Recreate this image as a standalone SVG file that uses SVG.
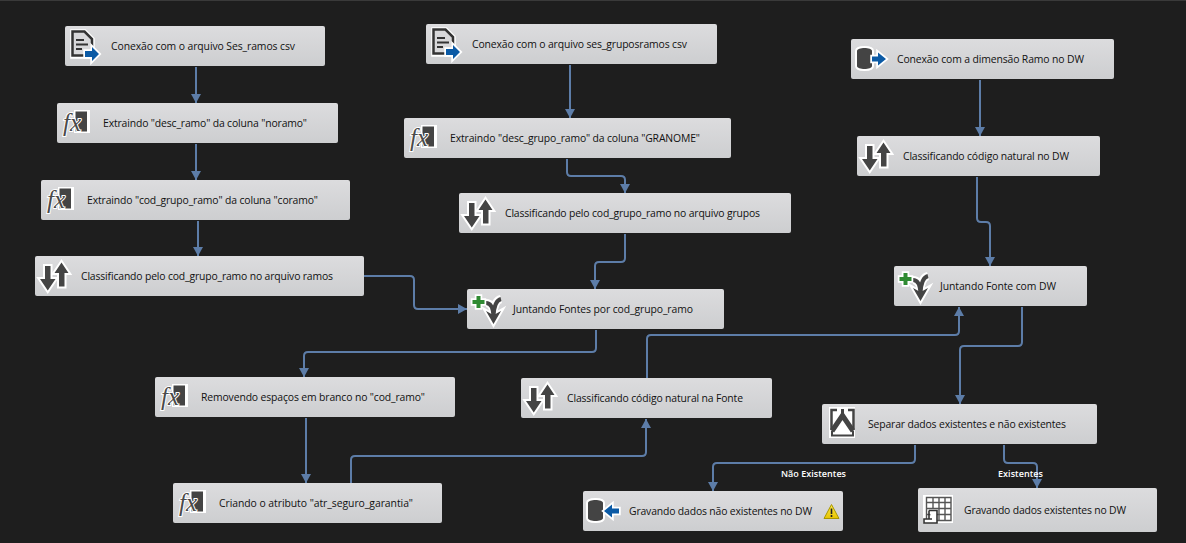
<svg xmlns="http://www.w3.org/2000/svg" width="1186" height="543" viewBox="0 0 1186 543">
<style>
.box{fill:url(#g);stroke:none}
text.t{font-family:"Open Sans","Noto Sans","Liberation Sans",sans-serif;font-size:10.4px;fill:#111}
text.l{font-family:"Open Sans","Noto Sans","Liberation Sans",sans-serif;font-size:9px;font-weight:600;fill:#fff}
.c{fill:none;stroke:#5d7da8;stroke-width:2;stroke-linejoin:round}
.d{fill:#444;stroke:#fff;stroke-width:4;paint-order:stroke;stroke-linejoin:miter}
.b{fill:#0b5aa5;stroke:#fff;stroke-width:3.500;paint-order:stroke;stroke-linejoin:miter}
.fx{font-family:"Liberation Serif",serif;font-style:italic;font-size:25px;fill:#4a4a4a;stroke:#fff;stroke-width:2;paint-order:stroke}
</style>
<defs>
<linearGradient id="g" x1="0" y1="0" x2="0" y2="1"><stop offset="0" stop-color="#dcdcde"/><stop offset="1" stop-color="#cdced0"/></linearGradient>
<linearGradient id="w" x1="0" y1="0" x2="0" y2="1"><stop offset="0" stop-color="#fbe94a"/><stop offset="1" stop-color="#e8c400"/></linearGradient>
<marker id="a" markerUnits="userSpaceOnUse" markerWidth="11" markerHeight="11" refX="9" refY="5" orient="auto"><path d="M0 0L9 5L0 10Z" fill="#5d7da8"/></marker>
<g id="i-doc">
<path d="M7 5H20L28 13V31H7Z" fill="#fff" stroke="#fff" stroke-width="3.500"/>
<path d="M7.500 5.500H19.500L27 13V29.500H7.500Z" fill="#d8d8da" stroke="#333" stroke-width="2.500"/>
<path d="M11 14H19M11 18.500H23M11 23H17" stroke="#333" stroke-width="1.800" fill="none"/>
<path class="b" d="M20 25H27V21L34 28L27 35V31H20Z"/>
</g>
<g id="i-fx">
<rect x="17" y="7" width="16" height="23" fill="#fff"/>
<rect x="18.500" y="8.500" width="11.500" height="20" fill="#444"/>
<text class="fx" x="6" y="28">fx</text>
</g>
<g id="i-sort">
<path class="d" d="M10 10H15.500V23H20.500L12.750 34.500L5 23H10Z"/>
<path class="d" d="M24 30.500V17H19.500L26.500 6.500L33.500 17H29.500V30.500Z"/>
</g>
<g id="i-merge">
<path d="M19 14C24 14 26 18 26.500 25M34 10C30 11 27 16 26.500 25" fill="none" stroke="#fff" stroke-width="8"/>
<path class="d" d="M19 22L24.500 25H28.500L34 22L26.500 35Z"/>
<path d="M19 14C24 14 26 18 26.500 27M34 10C30 11 27 16 26.500 27" fill="none" stroke="#444" stroke-width="4"/>
<path d="M9.500 7H13.500V11H17.500V15H13.500V19H9.500V15H5.500V11H9.500Z" fill="#2f8a32" stroke="#fff" stroke-width="3.500" paint-order="stroke"/>
</g>
<g id="i-split">
<rect x="7" y="3" width="26" height="31" fill="#fff"/>
<path d="M15 6H9.500V25M26 6H31.500V25" fill="none" stroke="#444" stroke-width="2.500"/>
<path d="M10 27L20.500 11.500L31 27" fill="none" stroke="#444" stroke-width="5"/>
<path d="M20.500 5V13" fill="none" stroke="#444" stroke-width="3"/>
<path d="M10 27V31.500H31V27" fill="none" stroke="#444" stroke-width="2"/>
</g>
<g id="i-dbd">
<path class="d" d="M6 12C6 8 21 8 21 12V27C21 31 6 31 6 27Z" stroke-width="5"/>
<path class="b" d="M21 17.500H27V13.500L35 20L27 26.500V22.500H21Z"/>
</g>
<g id="i-dbo">
<path class="d" d="M5 12C5 8 20 8 20 12V27C20 31 5 31 5 27Z" stroke-width="5"/>
<path class="b" d="M36 17.500H29V13.500L21 20L29 26.500V22.500H36Z"/>
</g>
<g id="i-tab">
<rect x="5" y="7" width="30" height="28" fill="#fff"/>
<path d="M8.500 9.500H33V32.500H8.500ZM8.500 14.500H33M8.500 20.500H33M8.500 26.500H33M15 9.500V20.500M21 9.500V32.500M27 9.500V32.500" fill="none" stroke="#555" stroke-width="1.400"/>
<path d="M11 22.500H19V35H6V31H14M11 22.500V31" fill="#fff" stroke="#333" stroke-width="1.600"/>
</g>
</defs>
<rect width="1186" height="543" fill="#1e1e1e"/>
<rect width="1186" height="1" fill="#3a3a3a"/>
<g id="connectors">
<path class="c" marker-end="url(#a)" d="M196 67V103"/>
<path class="c" marker-end="url(#a)" d="M196 144V180"/>
<path class="c" marker-end="url(#a)" d="M198 221V256"/>
<path class="c" marker-end="url(#a)" d="M364 276H410Q414 276 414 280V305Q414 309 418 309H467"/>
<path class="c" marker-end="url(#a)" d="M570 65V118"/>
<path class="c" marker-end="url(#a)" d="M567 159V172Q567 176 571 176H621Q625 176 625 180V193"/>
<path class="c" marker-end="url(#a)" d="M625 234V258Q625 262 621 262H599Q595 262 595 266V289"/>
<path class="c" marker-end="url(#a)" d="M596 330V348Q596 352 592 352H308Q304 352 304 356V377"/>
<path class="c" marker-end="url(#a)" d="M306 418V483"/>
<path class="c" marker-end="url(#a)" d="M351 483V460Q351 456 355 456H642Q646 456 646 452V419"/>
<path class="c" marker-end="url(#a)" d="M647 378V339Q647 335 651 335H955Q959 335 959 331V307"/>
<path class="c" marker-end="url(#a)" d="M980 80V136"/>
<path class="c" marker-end="url(#a)" d="M977 177V218Q977 222 981 222H986Q990 222 990 226V266"/>
<path class="c" marker-end="url(#a)" d="M1022 307V342Q1022 346 1018 346H964Q960 346 960 350V404"/>
<path class="c" marker-end="url(#a)" d="M915 445V459Q915 463 911 463H717Q713 463 713 467V491"/>
<path class="c" marker-end="url(#a)" d="M1004 445V459Q1004 463 1008 463H1033Q1037 463 1037 467V488"/>
</g>
<g id="n1" transform="translate(65,26)"><rect class="box" width="260" height="40" rx="2"/><use href="#i-doc"/><text class="t" x="46" y="23.500" textLength="184">Conexão com o arquivo Ses_ramos csv</text></g>
<g id="n2" transform="translate(57,103)"><rect class="box" width="281" height="40" rx="2"/><use href="#i-fx"/><text class="t" x="46" y="23.500" textLength="204">Extraindo "desc_ramo" da coluna "noramo"</text></g>
<g id="n3" transform="translate(41,180)"><rect class="box" width="309" height="40" rx="2"/><use href="#i-fx"/><text class="t" x="46" y="23.500" textLength="231">Extraindo "cod_grupo_ramo" da coluna "coramo"</text></g>
<g id="n4" transform="translate(35,256)"><rect class="box" width="329" height="40" rx="2"/><use href="#i-sort"/><text class="t" x="46" y="24" textLength="252">Classificando pelo cod_grupo_ramo no arquivo ramos</text></g>
<g id="n5" transform="translate(426,24)"><rect class="box" width="291" height="40" rx="2"/><use href="#i-doc"/><text class="t" x="46" y="23.500" textLength="215">Conexão com o arquivo ses_gruposramos csv</text></g>
<g id="n6" transform="translate(404,118)"><rect class="box" width="327" height="40" rx="2"/><use href="#i-fx"/><text class="t" x="46" y="23.500" textLength="250">Extraindo "desc_grupo_ramo" da coluna "GRANOME"</text></g>
<g id="n7" transform="translate(459,193)"><rect class="box" width="332" height="40" rx="2"/><use href="#i-sort"/><text class="t" x="46" y="24" textLength="255">Classificando pelo cod_grupo_ramo no arquivo grupos</text></g>
<g id="n8" transform="translate(467,289)"><rect class="box" width="257" height="40" rx="2"/><use href="#i-merge"/><text class="t" x="46" y="23.500" textLength="180">Juntando Fontes por cod_grupo_ramo</text></g>
<g id="n9" transform="translate(155,377)"><rect class="box" width="300" height="40" rx="2"/><use href="#i-fx"/><text class="t" x="46" y="23.500" textLength="224">Removendo espaços em branco no "cod_ramo"</text></g>
<g id="n10" transform="translate(521,378)"><rect class="box" width="251" height="40" rx="2"/><use href="#i-sort"/><text class="t" x="46" y="23.500" textLength="176">Classificando código natural na Fonte</text></g>
<g id="n11" transform="translate(173,483)"><rect class="box" width="269" height="40" rx="2"/><use href="#i-fx"/><text class="t" x="46" y="23.500" textLength="194">Criando o atributo "atr_seguro_garantia"</text></g>
<g id="n12" transform="translate(851,39)"><rect class="box" width="263" height="40" rx="2"/><use href="#i-dbd"/><text class="t" x="46" y="23.500" textLength="187">Conexão com a dimensão Ramo no DW</text></g>
<g id="n13" transform="translate(857,136)"><rect class="box" width="243" height="40" rx="2"/><use href="#i-sort"/><text class="t" x="46" y="24" textLength="166">Classificando código natural no DW</text></g>
<g id="n14" transform="translate(894,266)"><rect class="box" width="193" height="40" rx="2"/><use href="#i-merge"/><text class="t" x="46" y="23.500" textLength="116">Juntando Fonte com DW</text></g>
<g id="n15" transform="translate(822,404)"><rect class="box" width="275" height="40" rx="2"/><use href="#i-split"/><text class="t" x="46" y="23.500" textLength="198">Separar dados existentes e não existentes</text></g>
<g id="n16" transform="translate(583,491)"><rect class="box" width="260" height="40" rx="2"/><use href="#i-dbo"/><text class="t" x="46" y="23.500" textLength="183">Gravando dados não existentes no DW</text><path d="M248.500 13.500L256 27.500H241Z" fill="url(#w)" stroke="#a89600" stroke-width="1" stroke-linejoin="round"/><path d="M248.500 17.500V23M248.500 24V26" stroke="#222" stroke-width="1.600"/></g>
<g id="n17" transform="translate(918,488)"><rect class="box" width="239" height="44" rx="2"/><use href="#i-tab"/><text class="t" x="46" y="25.500" textLength="162">Gravando dados existentes no DW</text></g>
<g id="labels">
<text class="l" x="781" y="477" textLength="65">Não Existentes</text>
<text class="l" x="998" y="477" textLength="45">Existentes</text>
</g>
</svg>
